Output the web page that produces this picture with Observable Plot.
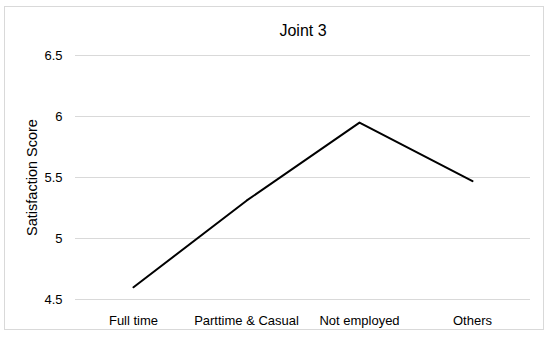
<!DOCTYPE html>
<html>
<head>
<meta charset="utf-8">
<script src="https://cdn.jsdelivr.net/npm/d3@7"></script>
<script src="https://cdn.jsdelivr.net/npm/@observablehq/plot@0.6"></script>
<style>
  html, body { margin: 0; padding: 0; background: #fff; }
  #wrap { position: relative; width: 550px; height: 337px; font-family: "Liberation Sans", Arial, sans-serif; }
  #border { position: absolute; left: 4px; top: 6px; width: 540px; height: 324px; border: 1px solid #d9d9d9; box-sizing: border-box; pointer-events: none; }
  #wrap svg { position: absolute; left: 0; top: 0; }
</style>
</head>
<body>
<div id="wrap"><div id="border"></div></div>
<script>
const categories = ["Full time", "Parttime & Casual", "Not employed", "Others"];
const scores = [4.6, 5.31, 5.95, 5.47];
const yTicks = [4.5, 5, 5.5, 6, 6.5];
const title = "Joint 3";
const yLabel = "Satisfaction Score";

const data = categories.map((c, i) => ({category: c, score: scores[i]}));

const chart = Plot.plot({
  width: 550,
  height: 337,
  marginTop: 55,
  marginBottom: 38,
  marginLeft: 75,
  marginRight: 20,
  style: {fontFamily: "'Liberation Sans', Arial, sans-serif", fontSize: "13px", color: "#000", background: "transparent"},
  x: {type: "point", domain: categories, padding: 0.5, label: null},
  y: {domain: [4.5, 6.5], ticks: yTicks, label: null},
  marks: [
    Plot.gridY(yTicks, {stroke: "#d9d9d9", strokeOpacity: 1, strokeWidth: 1}),
    Plot.axisY(yTicks, {tickSize: 0, tickPadding: 13, fontSize: 13, tickFormat: d => String(d), label: null}),
    Plot.axisX({tickSize: 0, tickPadding: 16, fontSize: 13, label: null}),
    Plot.lineY(data, {x: "category", y: "score", stroke: "#000", strokeWidth: 2}),
    Plot.text([title], {frameAnchor: "top", lineAnchor: "middle", text: d => d, dy: -25, fontSize: 16, fill: "#000"}),
    Plot.text([yLabel], {frameAnchor: "left", textAnchor: "middle", lineAnchor: "middle", text: d => d, dx: -43, rotate: -90, fontSize: 14.5, fill: "#000"})
  ]
});
document.getElementById("wrap").appendChild(chart);
</script>
</body>
</html>
